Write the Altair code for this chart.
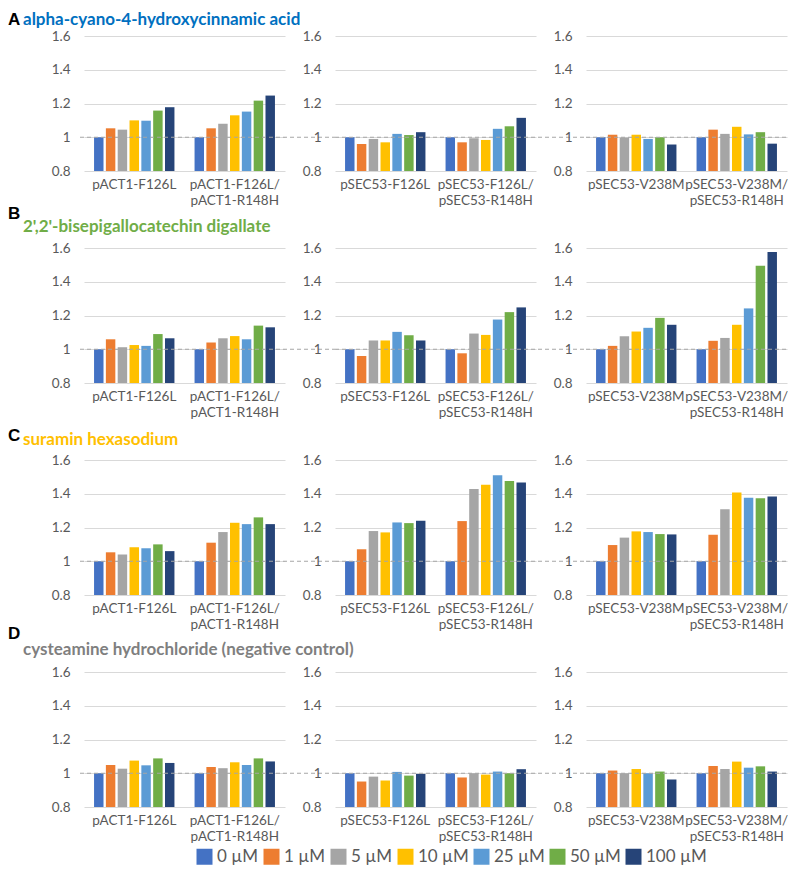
import altair as alt
import pandas as pd

concs = ["0 µM", "1 µM", "5 µM", "10 µM", "25 µM", "50 µM", "100 µM"]
colors = ["#4472C4", "#ED7D31", "#A5A5A5", "#FFC000", "#5B9BD5", "#70AD47", "#264478"]

groups_col1 = ["pACT1-F126L", "pACT1-F126L/|pACT1-R148H"]
groups_col2 = ["pSEC53-F126L", "pSEC53-F126L/|pSEC53-R148H"]
groups_col3 = ["pSEC53-V238M", "pSEC53-V238M/|pSEC53-R148H"]

letters = ["A", "B", "C", "D"]
compounds = [
    "alpha-cyano-4-hydroxycinnamic acid",
    "2',2'-bisepigallocatechin digallate",
    "suramin hexasodium",
    "cysteamine hydrochloride (negative control)",
]
title_colors = ["#0070C0", "#70AD47", "#FFC000", "#7F7F7F"]

# Row A: alpha-cyano-4-hydroxycinnamic acid
A_col1 = [[1.0, 1.053, 1.045, 1.100, 1.098, 1.158, 1.178],
          [1.0, 1.053, 1.080, 1.130, 1.152, 1.217, 1.247]]
A_col2 = [[1.0, 0.960, 0.990, 0.970, 1.020, 1.013, 1.030],
          [1.0, 0.970, 0.994, 0.984, 1.050, 1.065, 1.115]]
A_col3 = [[1.0, 1.015, 0.998, 1.015, 0.990, 1.000, 0.957],
          [1.0, 1.045, 1.020, 1.062, 1.017, 1.030, 0.962]]
# Row B: 2',2'-bisepigallocatechin digallate
B_col1 = [[1.0, 1.059, 1.012, 1.025, 1.020, 1.090, 1.065],
          [1.0, 1.040, 1.065, 1.078, 1.059, 1.140, 1.130]]
B_col2 = [[1.0, 0.960, 1.052, 1.052, 1.103, 1.083, 1.052],
          [1.0, 0.976, 1.093, 1.085, 1.176, 1.220, 1.248]]
B_col3 = [[1.0, 1.020, 1.077, 1.105, 1.127, 1.186, 1.145],
          [1.0, 1.050, 1.067, 1.145, 1.242, 1.495, 1.576]]
# Row C: suramin hexasodium
C_col1 = [[1.0, 1.053, 1.040, 1.083, 1.077, 1.100, 1.060],
          [1.0, 1.110, 1.173, 1.228, 1.220, 1.260, 1.220]]
C_col2 = [[1.0, 1.071, 1.179, 1.171, 1.230, 1.226, 1.240],
          [1.0, 1.238, 1.428, 1.454, 1.510, 1.475, 1.466]]
C_col3 = [[1.0, 1.096, 1.140, 1.177, 1.173, 1.161, 1.159],
          [1.0, 1.157, 1.308, 1.407, 1.377, 1.374, 1.383]]
# Row D: cysteamine hydrochloride
D_col1 = [[1.0, 1.049, 1.027, 1.075, 1.047, 1.088, 1.061],
          [1.0, 1.037, 1.030, 1.065, 1.049, 1.088, 1.070]]
D_col2 = [[1.0, 0.951, 0.980, 0.957, 1.008, 0.986, 0.996],
          [1.0, 0.975, 1.000, 0.992, 1.010, 1.000, 1.024]]
D_col3 = [[1.0, 1.016, 1.000, 1.025, 1.000, 1.010, 0.963],
          [1.0, 1.043, 1.025, 1.069, 1.033, 1.041, 1.010]]

y_ticks = [0.8, 1.0, 1.2, 1.4, 1.6]
y_base = 0.8
ref_line = 1.0

rows_data = [
    [A_col1, A_col2, A_col3],
    [B_col1, B_col2, B_col3],
    [C_col1, C_col2, C_col3],
    [D_col1, D_col2, D_col3],
]
col_groups = [groups_col1, groups_col2, groups_col3]

PW = 201
PH = 135
GAP = 50
ROW_GAP = 77
FONT = "Lato"
LABEL_COLOR = "#595959"

# header text offsets above each row's plot top: (letter, compound)
header_offsets = [(-16, -16), (-34, -21), (-24, -20), (-38, -22)]


def panel(groups, vals, i, j):
    recs = []
    for g, vs in zip(groups, vals):
        for c, v in zip(concs, vs):
            recs.append({"group": g, "conc": c, "value": v, "base": y_base})
    df = pd.DataFrame(recs)
    yaxis = alt.Axis(values=y_ticks, tickCount=5, format="~g", title=None, domain=False,
                     ticks=False, labelPadding=14, labelFontSize=13.5, labelColor=LABEL_COLOR,
                     labelFont=FONT, gridColor="#D9D9D9", labelOverlap=False)
    yscale = alt.Scale(domain=[0.8, 1.6], zero=False, nice=False)
    bars = alt.Chart(df).mark_bar().encode(
        x=alt.X("group:N", sort=groups,
                axis=alt.Axis(title=None, labelAngle=0, labelExpr="split(datum.label, '|')",
                              domain=False, ticks=False, labelPadding=6, labelFontSize=13.5,
                              labelColor=LABEL_COLOR, labelFont=FONT, labelLineHeight=16),
                scale=alt.Scale(paddingInner=0.2, paddingOuter=0.1)),
        xOffset=alt.XOffset("conc:N", sort=concs, scale=alt.Scale(paddingInner=0.2, paddingOuter=0)),
        y=alt.Y("value:Q", scale=yscale, axis=yaxis),
        y2="base:Q",
        color=alt.Color("conc:N", sort=concs, scale=alt.Scale(domain=concs, range=colors),
                        legend=alt.Legend(orient="none", legendX=112, legendY=812,
                                          direction="horizontal", columns=7, title=None,
                                          symbolType="square", symbolSize=256,
                                          symbolStrokeWidth=0, labelFontSize=17,
                                          labelColor=LABEL_COLOR, labelFont=FONT,
                                          columnPadding=4, labelOffset=4)),
    )
    x_start = -4 if j == 0 else 0
    x_end = PW if j == 2 else PW + GAP
    rule = alt.Chart(pd.DataFrame({"y": [ref_line]})).mark_rule(
        strokeDash=[4, 3], color="#A6A6A6", strokeWidth=1
    ).encode(y=alt.Y("y:Q", scale=yscale, axis=yaxis), x=alt.value(x_start), x2=alt.value(x_end))
    layers = [bars, rule]
    if j == 0:
        ly, cy = header_offsets[i]
        letter = alt.Chart(pd.DataFrame({"t": [letters[i]]})).mark_text(
            align="left", baseline="middle", fontSize=17, fontWeight="bold",
            font="Liberation Sans", color="black"
        ).encode(text="t:N", x=alt.value(-76), y=alt.value(ly))
        comp = alt.Chart(pd.DataFrame({"t": [compounds[i]]})).mark_text(
            align="left", baseline="middle", fontSize=17, fontWeight="bold",
            font=FONT, color=title_colors[i]
        ).encode(text="t:N", x=alt.value(-61), y=alt.value(cy))
        layers += [letter, comp]
    return alt.layer(*layers).properties(width=PW, height=PH)


panels = []
for i in range(4):
    for j in range(3):
        panels.append(panel(col_groups[j], rows_data[i][j], i, j))

chart = alt.concat(
    *panels, columns=3, spacing={"row": ROW_GAP, "column": GAP}, bounds="flush"
).properties(padding={"top": 3, "left": 0, "right": 0, "bottom": 0}).configure_view(strokeWidth=0)

chart.save("out.html", embed_options={"renderer": "svg", "actions": False})
